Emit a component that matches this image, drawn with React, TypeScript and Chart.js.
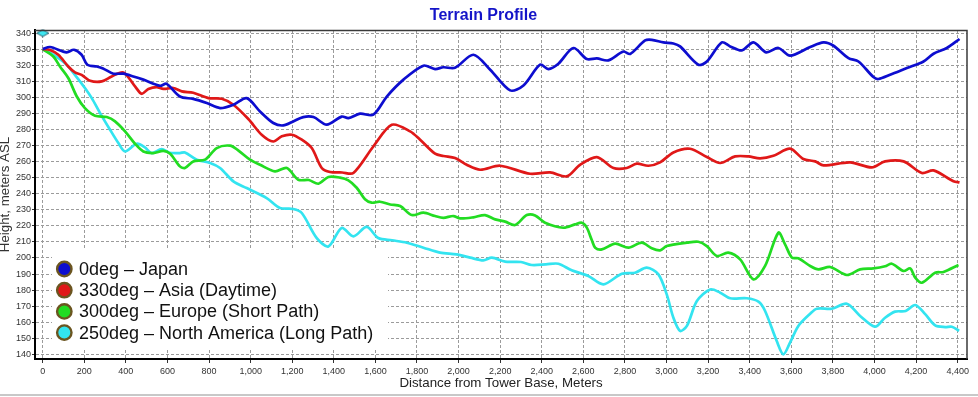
import React, { useEffect, useRef } from 'react';
import { Chart, registerables } from 'chart.js';

Chart.register(...registerables);

// ---------- Text ----------
const chartTitle = 'Terrain Profile';
const xAxisTitle = 'Distance from Tower Base, Meters';
const yAxisTitle = 'Height, meters ASL';
const seriesLabels = [
  '0deg – Japan',
  '330deg – Asia (Daytime)',
  '300deg – Europe (Short Path)',
  '250deg – North America (Long Path)',
];
const seriesColors = ['#0d0dcf', '#e01818', '#22dc22', '#33e4f0'];

// ---------- Axis ranges ----------
const xMin = -37;
const xMax = 4445;
const xStep = 200;
const yMin = 137.1;
const yMax = 341.9;
const yStep = 10;

// ---------- Tower marker ----------
const towerDist = [0];
const towerHeight = [340];

// ---------- 0deg – Japan ----------
const japanDist = [0, 35, 115, 150, 187, 215, 260, 290, 340, 388, 436, 484, 564, 596, 660, 724, 789, 853, 917, 981, 1045, 1109, 1157, 1205, 1253, 1302, 1366, 1438, 1470, 1526, 1590, 1655, 1735, 1831, 1887, 1927, 1983, 2071, 2152, 2248, 2312, 2392, 2432, 2480, 2552, 2617, 2665, 2720, 2793, 2825, 2897, 2929, 2985, 3033, 3065, 3153, 3194, 3266, 3306, 3362, 3418, 3479, 3538, 3594, 3691, 3755, 3803, 3875, 3923, 3995, 4019, 4075, 4156, 4236, 4284, 4348, 4409];
const japanHeight = [330, 331.3, 328, 329.6, 326.5, 320.3, 319.2, 318, 314.7, 314.7, 313, 311, 307.2, 308.4, 300.5, 299, 296.4, 293.3, 295.4, 299.5, 291.2, 284, 282.5, 285, 287.7, 287.7, 283, 288, 287, 289.8, 289.2, 300.5, 311, 319.7, 317.6, 318.7, 318.4, 326.5, 317.2, 304.3, 307.4, 320.3, 317.6, 320.9, 330.7, 323.8, 324.2, 323, 328.5, 327, 335.4, 335.8, 334.2, 333.5, 331.7, 320.3, 322.3, 334.2, 331.7, 329.2, 334.2, 328, 330.7, 325.9, 331.3, 334.2, 332.1, 324.4, 322.3, 312.6, 311.4, 314, 318.2, 322.3, 327.1, 330.7, 336.3];

// ---------- 330deg – Asia (Daytime) ----------
const asiaDist = [0, 35, 75, 123, 155, 187, 228, 284, 332, 388, 444, 476, 508, 548, 580, 628, 669, 724, 797, 861, 917, 989, 1053, 1109, 1150, 1198, 1246, 1294, 1342, 1382, 1440, 1494, 1590, 1679, 1767, 1815, 1887, 1927, 1983, 2039, 2104, 2200, 2344, 2440, 2520, 2584, 2665, 2745, 2809, 2857, 2913, 2969, 3033, 3113, 3194, 3258, 3330, 3394, 3450, 3514, 3594, 3658, 3715, 3755, 3883, 3987, 4051, 4140, 4228, 4284, 4380, 4409];
const asiaHeight = [330, 329.5, 326.5, 319.2, 315.5, 314, 310.3, 309.9, 313, 315.5, 306.8, 302.2, 305.2, 306.4, 305.2, 305.8, 303.7, 302.8, 299.5, 299.1, 295.4, 286.5, 276.7, 272.5, 275.7, 276.7, 273.6, 268.4, 256, 253.5, 253.2, 252.9, 269.4, 282.9, 278.8, 273.6, 264.9, 263.5, 262.2, 258, 254.9, 257.4, 252.4, 253.3, 250.8, 258, 262.8, 256, 256, 258.7, 257.4, 259.5, 265.7, 268, 262.8, 259.1, 263.2, 263.2, 262, 263.6, 268, 261.6, 260.1, 257.6, 259.5, 256.4, 260.1, 260.1, 252.9, 254.5, 247.7, 247];

// ---------- 300deg – Europe (Short Path) ----------
const europeDist = [0, 51, 83, 123, 164, 203, 252, 308, 348, 396, 444, 484, 532, 580, 613, 660, 684, 724, 781, 837, 901, 940, 997, 1045, 1117, 1174, 1229, 1280, 1326, 1374, 1430, 1470, 1510, 1550, 1582, 1622, 1671, 1719, 1775, 1831, 1887, 1927, 1975, 2008, 2071, 2127, 2176, 2224, 2272, 2328, 2368, 2416, 2504, 2560, 2593, 2616, 2641, 2657, 2689, 2753, 2817, 2881, 2929, 2969, 3001, 3098, 3153, 3194, 3242, 3297, 3354, 3418, 3474, 3538, 3570, 3603, 3634, 3691, 3731, 3787, 3867, 3931, 3995, 4051, 4083, 4140, 4172, 4196, 4228, 4292, 4332, 4404];
const europeHeight = [330, 325.4, 319.2, 312, 300.5, 293.3, 288.5, 287.7, 285, 278.8, 271.1, 266.3, 265.3, 266.7, 264.9, 257, 256, 260.1, 261.2, 268.4, 269.9, 267, 261.2, 258, 253.9, 256, 248.7, 248.5, 246.2, 250.4, 250, 248.3, 243.7, 236.5, 234.4, 235, 233.3, 232.3, 226.7, 228.2, 226.1, 225, 226.1, 224.6, 225.3, 226.7, 224, 222.6, 220.5, 226.7, 226.5, 221.9, 218.8, 220.9, 221.9, 219, 211, 206.4, 205.3, 208.9, 206.4, 209.5, 206, 204.7, 207.4, 209.5, 210.1, 207.4, 201.2, 203.3, 199.1, 186.7, 195, 215.7, 208.5, 200.2, 199.8, 195, 192.9, 194.4, 189.4, 192.9, 193.5, 194.8, 196.4, 191.9, 193.5, 187.7, 184.6, 190.8, 191.3, 195.6];

// ---------- 250deg – North America (Long Path) ----------
const naDist = [0, 51, 115, 155, 203, 236, 276, 324, 364, 396, 452, 490, 524, 572, 610, 660, 684, 741, 805, 853, 917, 981, 1077, 1141, 1205, 1246, 1318, 1374, 1438, 1494, 1558, 1614, 1680, 1751, 1831, 1911, 1991, 2056, 2119, 2160, 2224, 2300, 2352, 2420, 2480, 2544, 2624, 2696, 2785, 2849, 2905, 2961, 3001, 3033, 3065, 3098, 3146, 3210, 3258, 3306, 3386, 3442, 3474, 3530, 3562, 3594, 3634, 3691, 3723, 3795, 3867, 3931, 4003, 4051, 4099, 4150, 4196, 4244, 4292, 4340, 4372, 4407];
const naHeight = [330, 326.5, 320.3, 314, 305.8, 299.5, 290.2, 279.8, 271.5, 266.3, 271.1, 269, 265.3, 267.8, 265.5, 265.3, 265.7, 261.2, 259.1, 256, 247.7, 243.5, 237.3, 231.1, 230.5, 228, 212.4, 207.2, 218.7, 213.4, 219.3, 212.4, 211, 209.5, 206.4, 203.3, 202.2, 200.2, 198.5, 200.2, 197.7, 197.5, 195.6, 196, 196.4, 192.3, 188.8, 183.6, 190.2, 190.8, 194, 189.8, 177.3, 162.8, 154.6, 157.7, 173.2, 180.4, 178.4, 174.9, 174.9, 172.8, 167, 148.3, 140, 147.3, 157.7, 165.3, 168.4, 168.4, 171.5, 163.9, 157.2, 162.8, 166.6, 167, 170.7, 165, 158, 157, 157.2, 154.6];

const fontFamily = '"Liberation Sans", Arial, Helvetica, sans-serif';

const insideLegend = {
  id: 'insideLegend',
  afterDatasetsDraw(chart: any) {
    const { ctx, chartArea } = chart;
    const left = chartArea.left + 17;
    const top = chartArea.bottom - 109;
    ctx.save();
    ctx.fillStyle = '#ffffff';
    ctx.fillRect(left, top, 336, 100);
    ctx.font = `18px ${fontFamily}`;
    ctx.textBaseline = 'middle';
    ctx.textAlign = 'left';
    chart.data.datasets.slice(0, 4).forEach((ds: any, i: number) => {
      const cy = top + 19 + i * 21.2;
      const cx = chartArea.left + 29.3;
      ctx.beginPath();
      ctx.arc(cx, cy, 7.2, 0, Math.PI * 2);
      ctx.fillStyle = ds.borderColor;
      ctx.fill();
      ctx.lineWidth = 2.4;
      ctx.strokeStyle = '#6b5520';
      ctx.stroke();
      ctx.fillStyle = '#111111';
      ctx.fillText(ds.label, left + 27, cy + 1);
    });
    ctx.restore();
  },
};

const frame = {
  id: 'frame',
  afterDraw(chart: any) {
    const { ctx, chartArea: a, width, height } = chart;
    ctx.save();
    ctx.strokeStyle = '#3a3a3a';
    ctx.lineWidth = 1.5;
    ctx.beginPath();
    ctx.moveTo(a.left, a.top + 0.5);
    ctx.lineTo(a.right, a.top + 0.5);
    ctx.lineTo(a.right, a.bottom);
    ctx.stroke();
    ctx.strokeStyle = '#c8c8c8';
    ctx.lineWidth = 2;
    ctx.beginPath();
    ctx.moveTo(0, height - 2);
    ctx.lineTo(width, height - 2);
    ctx.stroke();
    ctx.restore();
  },
};

export default function App() {
  const ref = useRef<HTMLCanvasElement>(null);

  useEffect(() => {
    document.body.style.margin = '0';
    const canvas = ref.current;
    if (!canvas) return;
    Chart.defaults.font.family = fontFamily;

    const diamond = document.createElement('canvas');
    diamond.width = 14;
    diamond.height = 9;
    const d = diamond.getContext('2d')!;
    d.beginPath();
    d.moveTo(1, 4.5);
    d.lineTo(7, 1);
    d.lineTo(13, 4.5);
    d.lineTo(7, 8);
    d.closePath();
    d.fillStyle = '#3fe6f0';
    d.fill();
    d.strokeStyle = '#2a6070';
    d.lineWidth = 1;
    d.stroke();

    const series: [number[], number[]][] = [
      [japanDist, japanHeight],
      [asiaDist, asiaHeight],
      [europeDist, europeHeight],
      [naDist, naHeight],
    ];
    const datasets: any[] = series.map(([xs, ys], i) => ({
      type: 'line',
      label: seriesLabels[i],
      data: xs.map((x, j) => ({ x, y: ys[j] })),
      borderColor: seriesColors[i],
      backgroundColor: seriesColors[i],
      borderWidth: 2.7,
      pointRadius: 0,
      tension: 0.3,
      fill: false,
    }));
    datasets.push({
      type: 'line',
      label: 'Tower',
      data: towerDist.map((x, j) => ({ x, y: towerHeight[j] })),
      showLine: false,
      pointStyle: diamond,
      pointRadius: 6,
      clip: false,
    });

    const chart = new Chart(canvas, {
      type: 'line',
      data: { datasets },
      plugins: [insideLegend, frame],
      options: {
        responsive: false,
        animation: false,
        events: [],
        locale: 'en-US',
        layout: { padding: { top: 0, right: 11, bottom: 0, left: 0 } },
        plugins: {
          legend: { display: false },
          tooltip: { enabled: false },
          title: {
            display: true,
            text: chartTitle,
            color: '#1414c8',
            font: { size: 16, weight: 'bold' },
            padding: { top: 6, bottom: 4.8 },
          },
        },
        scales: {
          x: {
            type: 'linear',
            min: xMin,
            max: xMax,
            ticks: {
              stepSize: xStep,
              includeBounds: false,
              maxRotation: 0,
              autoSkip: false,
              color: '#333333',
              font: { size: 9 },
              padding: 3,
            },
            grid: { color: '#9b9b9b', lineWidth: 1, tickLength: 4, tickColor: '#333333' },
            border: { display: true, color: '#000000', width: 2, dash: [3, 2] },
            title: {
              display: true,
              text: xAxisTitle,
              color: '#222222',
              font: { size: 13.3, lineHeight: 1 },
              padding: { top: 0, bottom: 7 },
            },
            afterFit: (s: any) => {
              s.height = 38;
            },
          },
          y: {
            type: 'linear',
            min: yMin,
            max: yMax,
            ticks: {
              stepSize: yStep,
              includeBounds: false,
              color: '#333333',
              font: { size: 9 },
              padding: 1,
            },
            grid: { color: '#9b9b9b', lineWidth: 1, tickLength: 3, tickColor: '#333333' },
            border: { display: true, color: '#000000', width: 2, dash: [3, 2] },
            title: {
              display: true,
              text: yAxisTitle,
              color: '#333333',
              font: { size: 13.3, lineHeight: 1 },
              padding: { top: -1.3, bottom: 0 },
            },
            afterFit: (s: any) => {
              s.width = 35;
            },
          },
        },
      } as any,
    });

    return () => chart.destroy();
  }, []);

  return (
    <div style={{ width: 978, height: 397 }}>
      <canvas ref={ref} width={978} height={397} style={{ display: 'block' }} />
    </div>
  );
}
